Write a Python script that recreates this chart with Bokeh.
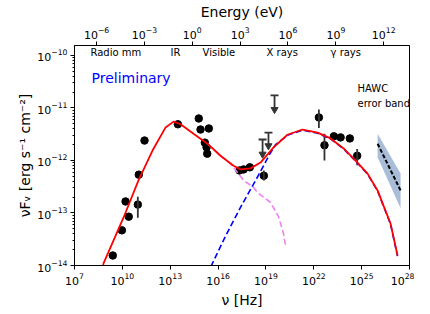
import numpy as np
from bokeh.plotting import figure
from bokeh.models import LogAxis, Range1d, FixedTicker, LogScale
from bokeh.core.properties import value
from bokeh.embed import file_html
from bokeh.resources import INLINE

# ---------------- data (log10 values) ----------------
obs_log_nu = [9.40, 9.97, 10.20, 10.40, 10.97, 11.03, 11.39, 13.48, 14.79, 14.90,
              15.42, 15.17, 15.28, 15.32, 17.34, 17.60, 17.99, 18.87, 22.32, 22.67,
              23.26, 23.68, 24.26, 24.72]
obs_log_flux = [-13.81, -13.33, -12.78, -13.07, -12.84, -12.27, -11.62, -11.31, -11.20, -11.41,
                -11.39, -11.66, -11.75, -11.87, -12.19, -12.17, -12.13, -12.29, -11.18, -11.71,
                -11.54, -11.56, -11.58, -11.91]

err_log_nu = [10.97, 18.87, 22.32, 22.67, 24.72]
err_log_lo = [-13.09, -12.38, -11.38, -12.00, -12.09]
err_log_hi = [-12.69, -12.19, -11.03, -11.49, -11.78]

ul_log_nu = [18.79, 19.16, 19.54]
ul_log_cap = [-11.60, -11.47, -10.76]
ul_log_tip = [-11.88, -11.72, -11.03]

total_log_nu = [8.75, 8.82, 10.07, 11.01, 11.89, 12.71, 13.21, 13.65, 14.46, 15.34, 16.15,
                16.97, 17.41, 18.03, 18.66, 19.48, 20.35, 21.29, 22.24, 23.05, 23.87,
                24.74, 25.37, 26.00, 26.37, 26.81, 27.25]
total_log_flux = [-14.10, -13.96, -13.09, -12.38, -11.81, -11.37, -11.26, -11.31, -11.49, -11.68, -11.91,
                  -12.10, -12.17, -12.15, -12.04, -11.75, -11.51, -11.41, -11.47, -11.58, -11.77,
                  -12.04, -12.25, -12.57, -12.86, -13.20, -13.81]

ic_log_nu = [15.55, 16.50, 17.50, 18.50, 19.20, 19.60, 20.35, 21.29, 22.24, 23.05, 23.87,
             24.74, 25.37, 26.00, 26.37, 26.81, 27.25]
ic_log_flux = [-14.02, -13.42, -12.84, -12.30, -11.90, -11.70, -11.52, -11.42, -11.48, -11.59, -11.78,
               -12.05, -12.26, -12.58, -12.87, -13.21, -13.82]

sync_log_nu = [15.34, 16.15, 16.78, 17.60, 18.22, 18.47, 19.29, 19.79, 20.10, 20.23]
sync_log_flux = [-11.68, -11.91, -12.06, -12.38, -12.51, -12.61, -12.80, -13.07, -13.39, -13.62]

band_log_nu = [26.00, 27.44, 27.44, 26.00]
band_log_flux = [-11.49, -12.25, -12.91, -11.94]

hawc_log_nu = [26.00, 27.44]
hawc_log_flux = [-11.68, -12.57]

region_labels = ["Radio mm", "IR", "Visible", "X rays", "γ rays"]
region_log_nu = [8.00, 13.02, 15.03, 19.04, 23.05]
region_log_flux = [-9.94, -9.94, -9.94, -9.94, -9.94]

note_labels = ["HAWC", "error band"]
note_log_nu = [24.74, 24.74]
note_log_flux = [-10.63, -10.91]

prelim_log_nu = [8.07]
prelim_log_flux = [-10.42]

nu_ticks = [1e7, 1e10, 1e13, 1e16, 1e19, 1e22, 1e25, 1e28]
energy_ticks = [1e-6, 1e-3, 1e0, 1e3, 1e6, 1e9, 1e12]
flux_ticks = [1e-14, 1e-13, 1e-12, 1e-11, 1e-10]

H_EV = 4.135667696e-15  # Planck constant [eV s]
FONT = "DejaVu Sans"


def lin(a):
    return (10.0 ** np.asarray(a, dtype=float)).tolist()


flux_minor = [m * d for d in flux_ticks[:-1] for m in range(2, 10)] + [m * 1e-10 for m in range(2, 10)]

p = figure(frame_width=335, frame_height=220,
           x_axis_type="log", y_axis_type="log",
           x_range=Range1d(1e7, 1e28), y_range=Range1d(1e-14, 10 ** -9.81),
           output_backend="svg", toolbar_location=None,
           min_border_left=74, min_border_right=5, min_border_top=37, min_border_bottom=41,
           background_fill_color="white", border_fill_color="white")
p.extra_x_ranges = {"energy": Range1d(1e7 * H_EV, 1e28 * H_EV)}
p.extra_x_scales = {"energy": LogScale()}

bottom = p.below[0]
left = p.left[0]
bottom.ticker = FixedTicker(ticks=nu_ticks, minor_ticks=[])
left.ticker = FixedTicker(ticks=flux_ticks, minor_ticks=flux_minor)
bottom.axis_label = "ν [Hz]"
left.axis_label = "νFᵥ [erg s⁻¹ cm⁻²]"

top = LogAxis(x_range_name="energy", axis_label="Energy (eV)",
              ticker=FixedTicker(ticks=energy_ticks, minor_ticks=[]))
p.add_layout(top, "above")

for ax in (bottom, left, top):
    ax.axis_label_text_font = FONT
    ax.axis_label_text_font_size = "14px"
    ax.axis_label_text_font_style = "normal"
    ax.axis_label_text_color = "black"
    ax.axis_label_standoff = 4
    ax.major_label_text_font = FONT
    ax.major_label_text_font_size = "11px"
    ax.major_label_text_color = "black"
    ax.major_label_standoff = 3
    ax.axis_line_color = "black"
    ax.major_tick_line_color = "black"
    ax.minor_tick_line_color = "black"
    ax.major_tick_in = 0
    ax.major_tick_out = 4
    ax.minor_tick_in = 0
    ax.minor_tick_out = 2
left.axis_label_standoff = 1

p.xgrid.grid_line_color = None
p.ygrid.grid_line_color = None
p.outline_line_color = "black"
p.outline_line_width = 1

# HAWC band
p.patch(x=lin(band_log_nu), y=lin(band_log_flux), fill_color="#a9bdd8", fill_alpha=1.0, line_color=None)

# observed points
p.scatter(x=lin(obs_log_nu), y=lin(obs_log_flux), size=7.5, color="black")
p.segment(x0=lin(err_log_nu), y0=lin(err_log_lo), x1=lin(err_log_nu), y1=lin(err_log_hi),
          line_color="#333333", line_width=1.8)

# upper limits
p.segment(x0=lin(ul_log_nu), y0=lin(ul_log_cap), x1=lin(ul_log_nu), y1=lin(ul_log_tip),
          line_color="#333333", line_width=1.8)
p.scatter(x=lin(ul_log_nu), y=lin(ul_log_cap), marker="dash", size=8, line_color="#333333", line_width=1.8)
p.scatter(x=lin(ul_log_nu), y=lin(ul_log_tip), marker="inverted_triangle", size=7,
          fill_color="#333333", line_color="#333333")

# model curves
p.line(x=lin(sync_log_nu), y=lin(sync_log_flux), line_color="violet", line_width=1.6, line_dash="6 3")
p.line(x=lin(ic_log_nu), y=lin(ic_log_flux), line_color="blue", line_width=1.6, line_dash="6 3")
p.line(x=lin(total_log_nu), y=lin(total_log_flux), line_color="red", line_width=1.8)
p.line(x=lin(hawc_log_nu), y=lin(hawc_log_flux), line_color="black", line_width=2, line_dash="4 2")

# texts
p.text(x=lin(region_log_nu), y=lin(region_log_flux), text=region_labels,
       text_font=value(FONT), text_font_size="10px", text_baseline="middle", text_align="left",
       text_color="black")
p.text(x=lin(note_log_nu), y=lin(note_log_flux), text=note_labels,
       text_font=value(FONT), text_font_size="10px", text_baseline="middle", text_align="left",
       text_color="black")
p.text(x=lin(prelim_log_nu), y=lin(prelim_log_flux), text=["Preliminary"],
       text_font=value(FONT), text_font_size="14px", text_baseline="middle", text_align="left",
       text_color="blue")

open("out.html", "w").write(file_html(p, INLINE))
